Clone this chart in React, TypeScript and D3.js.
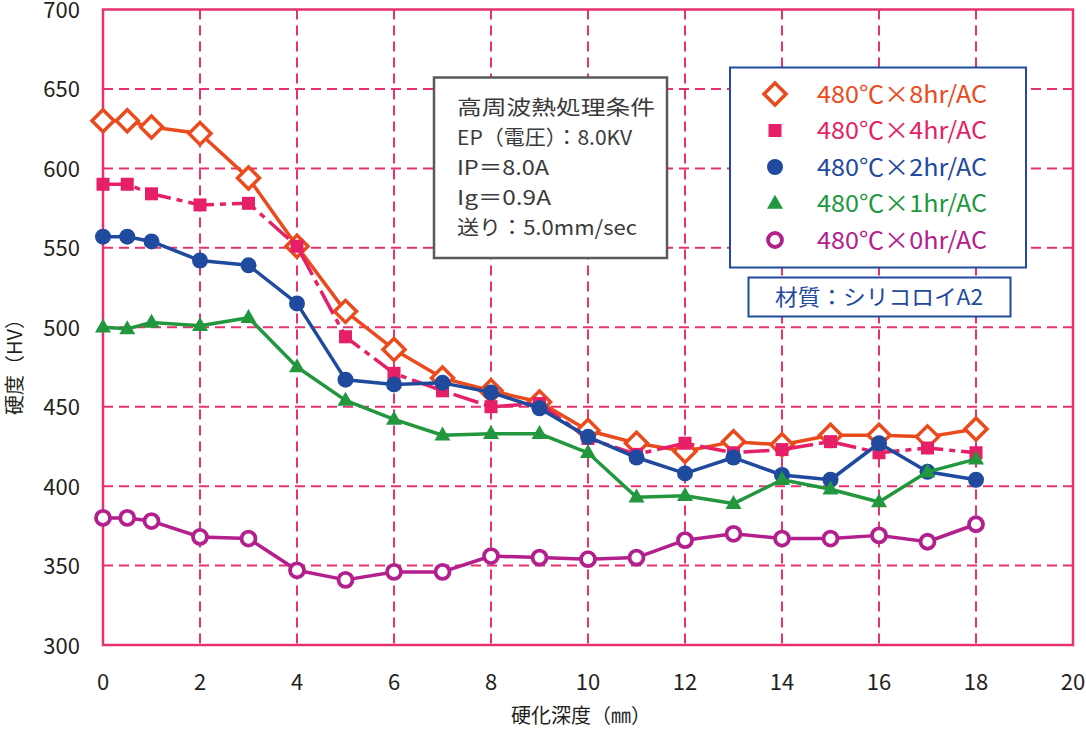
import React from "react";
import * as d3 from "d3";

const depths = [0, 0.5, 1, 2, 3, 4, 5, 6, 7, 8, 9, 10, 11, 12, 13, 14, 15, 16, 17, 18];
const hv8hr = [630, 630, 626, 622, 594, 551, 510, 486, 468, 460, 453, 435, 427, 422, 428, 426, 432, 432, 431, 436];
const hv4hr = [590, 590, 584, 577, 578, 551, 494, 471, 460, 450, 452, 430, 420, 427, 421, 423, 428, 421, 424, 421];
const hv2hr = [557, 557, 554, 542, 539, 515, 467, 464, 465, 459, 449, 431, 418, 408, 418, 407, 404, 427, 409, 404];
const hv1hr = [500, 499, 503, 501, 506, 475, 454, 442, 432, 433, 433, 421, 393, 394, 389, 404, 398, 390, 409, 417];
const hv0hr = [380, 380, 378, 368, 367, 347, 341, 346, 346, 356, 355, 354, 355, 366, 370, 367, 367, 369, 365, 376];

const xTicks = [0, 2, 4, 6, 8, 10, 12, 14, 16, 18, 20];
const yTicks = [300, 350, 400, 450, 500, 550, 600, 650, 700];

const seriesNames = ["480℃×8hr/AC", "480℃×4hr/AC", "480℃×2hr/AC", "480℃×1hr/AC", "480℃×0hr/AC"];
const conditionLines = ["高周波熱処理条件", "EP（電圧）：8.0KV", "IP＝8.0A", "Ig＝0.9A", "送り：5.0mm/sec"];
const materialLabel = "材質：シリコロイA2";
const xTitle = "硬化深度（㎜）";
const yTitle = "硬度（HV）";

// layout: rendered widths of the condition lines
const conditionWidths = [198, 175, 92, 94, 180];

const FONT = "'Noto Sans CJK JP', 'Noto Sans', sans-serif";
const AXIS = "#e6336f";

type Marker = "diamond" | "square" | "circle" | "triangle" | "ring";

const series = [
  { name: seriesNames[0], values: hv8hr, color: "#ea4a1c", marker: "diamond" as Marker, dash: "" },
  { name: seriesNames[1], values: hv4hr, color: "#e61f68", marker: "square" as Marker, dash: "26 6 6 6" },
  { name: seriesNames[2], values: hv2hr, color: "#1f4a9d", marker: "circle" as Marker, dash: "" },
  { name: seriesNames[3], values: hv1hr, color: "#22973d", marker: "triangle" as Marker, dash: "" },
  { name: seriesNames[4], values: hv0hr, color: "#b3208e", marker: "ring" as Marker, dash: "" },
];

function MarkerShape({ type, x, y, color }: { type: Marker; x: number; y: number; color: string }) {
  if (type === "diamond") {
    const r = 11;
    return (
      <path
        d={`M${x},${y - r}L${x + r},${y}L${x},${y + r}L${x - r},${y}Z`}
        fill="#fff"
        stroke={color}
        strokeWidth={3.5}
      />
    );
  }
  if (type === "square") {
    const s = 13;
    return <rect x={x - s / 2} y={y - s / 2} width={s} height={s} fill={color} />;
  }
  if (type === "circle") {
    return <circle cx={x} cy={y} r={8} fill={color} />;
  }
  if (type === "triangle") {
    const h = 14;
    const w = 16;
    return (
      <path d={`M${x},${y - h * 0.62}L${x + w / 2},${y + h * 0.38}L${x - w / 2},${y + h * 0.38}Z`} fill={color} />
    );
  }
  return <circle cx={x} cy={y} r={7} fill="#fff" stroke={color} strokeWidth={3.8} />;
}

export default function App() {
  const W = 1086;
  const H = 729;
  const left = 103;
  const right = 1073;
  const top = 9.5;
  const bottom = 645;

  const x = d3.scaleLinear().domain([0, 20]).range([left, right]);
  const y = d3.scaleLinear().domain([300, 700]).range([bottom, top]);

  const line = d3
    .line<number>()
    .x((_, i) => x(depths[i]))
    .y((v) => y(v));

  const legendX = 775;
  const legendY0 = 94;
  const legendDy = 36.5;

  return (
    <div style={{ position: "absolute", left: 0, top: 0 }}>
      <svg width={W} height={H} style={{ display: "block", background: "#fff" }} fontFamily={FONT}>
        {/* grid */}
        {xTicks.slice(1, -1).map((t) => (
          <line key={"gx" + t} x1={x(t)} x2={x(t)} y1={top} y2={bottom} stroke={AXIS} strokeWidth={2} strokeDasharray="10 6" />
        ))}
        {yTicks.slice(1, -1).map((t) => (
          <line key={"gy" + t} x1={left} x2={right} y1={y(t)} y2={y(t)} stroke={AXIS} strokeWidth={2} strokeDasharray="10 6" />
        ))}
        {/* frame */}
        <rect x={left} y={top} width={right - left} height={bottom - top} fill="none" stroke={AXIS} strokeWidth={2.5} />

        {/* tick labels */}
        {yTicks.map((t) => (
          <text key={"yl" + t} x={80} y={y(t) + 8.5} textAnchor="end" fontSize={22} fill="#231f20">
            {t}
          </text>
        ))}
        {xTicks.map((t) => (
          <text key={"xl" + t} x={x(t)} y={690} textAnchor="middle" fontSize={22} fill="#231f20">
            {t}
          </text>
        ))}

        {/* axis titles */}
        <text x={581} y={723} textAnchor="middle" fontSize={20} fill="#231f20">
          {xTitle}
        </text>
        <text
          transform={`translate(15,${362}) rotate(-90)`}
          dy="0.36em"
          textAnchor="middle"
          fontSize={20}
          fill="#231f20"
        >
          {yTitle}
        </text>

        {/* series */}
        {series.map((s) => (
          <g key={s.name}>
            <path d={line(s.values) || ""} fill="none" stroke={s.color} strokeWidth={3.5} strokeDasharray={s.dash || undefined} strokeLinejoin="round" />
            {s.values.map((v, i) => (
              <MarkerShape key={i} type={s.marker} x={x(depths[i])} y={y(v)} color={s.color} />
            ))}
          </g>
        ))}

        {/* condition box */}
        <rect x={434} y={77.5} width={233} height={180.5} fill="#fff" stroke="#5a5a5a" strokeWidth={2.5} />
        {conditionLines.map((l, i) => (
          <text
            key={l}
            x={457}
            y={108 + i * 30}
            dy="0.36em"
            fontSize={20.5}
            fill="#3a3a3a"
            textLength={conditionWidths[i]}
            lengthAdjust="spacingAndGlyphs"
          >
            {l}
          </text>
        ))}

        {/* legend box */}
        <rect x={730} y={67.5} width={296} height={200} fill="#fff" stroke="#1f4a9d" strokeWidth={2} />
        {series.map((s, i) => (
          <g key={"lg" + s.name}>
            <MarkerShape type={s.marker} x={legendX} y={legendY0 + i * legendDy} color={s.color} />
            <text
              x={817}
              y={legendY0 + i * legendDy}
              dy="0.36em"
              fontSize={24}
              fill={s.color}
              textLength={170}
              lengthAdjust="spacingAndGlyphs"
            >
              {s.name}
            </text>
          </g>
        ))}

        {/* material box */}
        <rect x={748.5} y={277.5} width={262} height={39} fill="#fff" stroke="#1f4a9d" strokeWidth={2} />
        <text
          x={775}
          y={297}
          dy="0.36em"
          fontSize={22}
          fill="#1f4a9d"
          textLength={208}
          lengthAdjust="spacingAndGlyphs"
        >
          {materialLabel}
        </text>
      </svg>
    </div>
  );
}
